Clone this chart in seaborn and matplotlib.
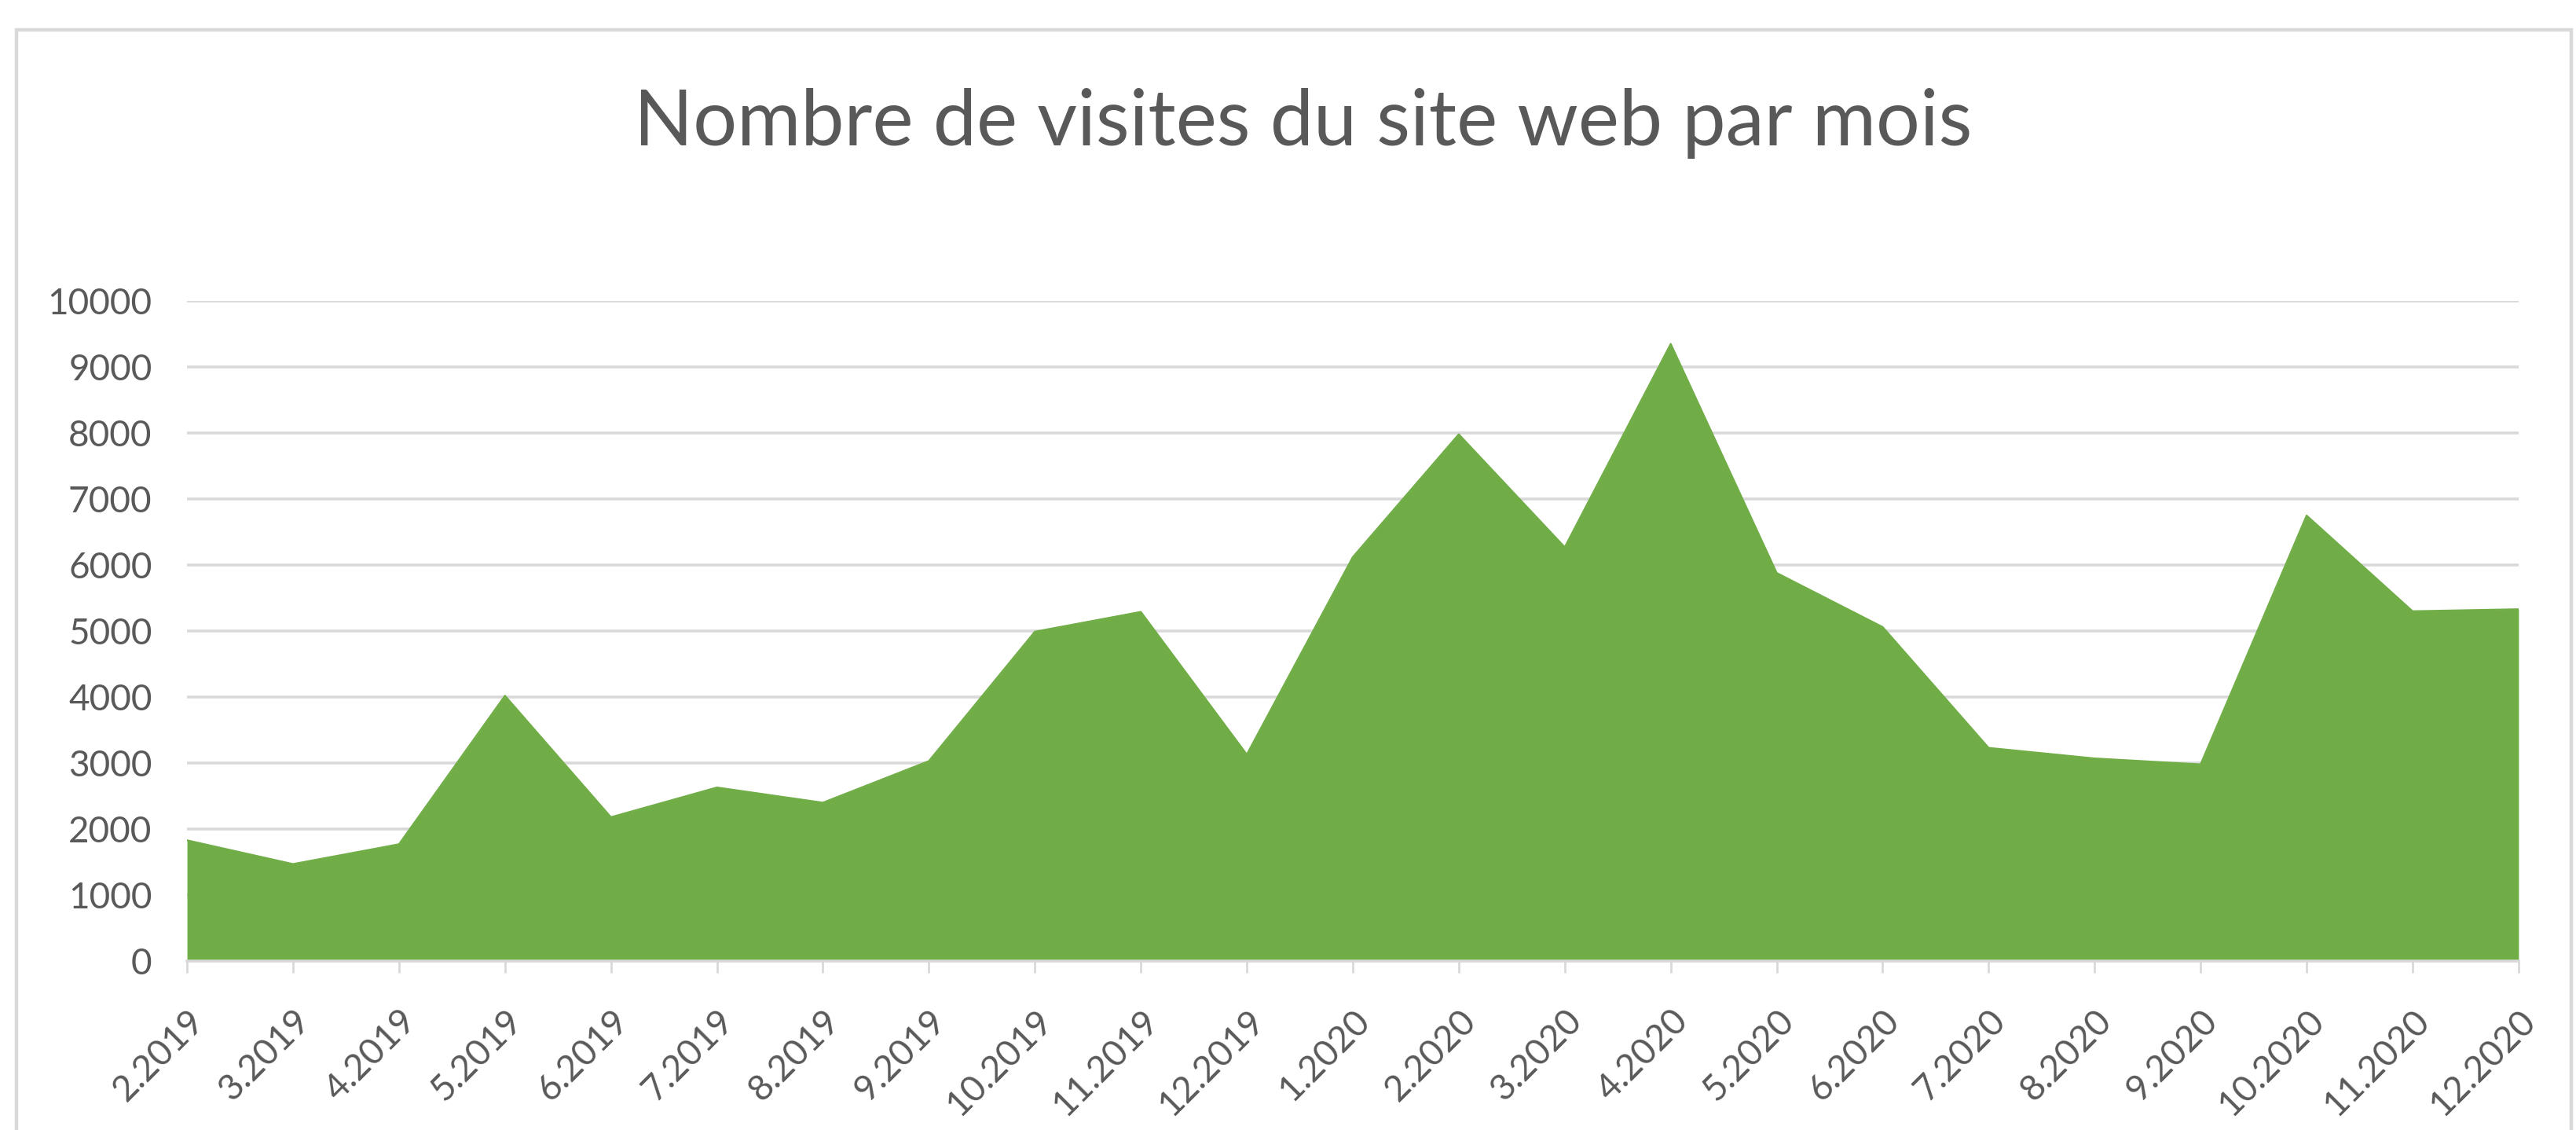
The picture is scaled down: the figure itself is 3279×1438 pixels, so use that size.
import numpy as np
import pandas as pd
import seaborn as sns
import matplotlib.pyplot as plt
from matplotlib.patches import Rectangle

# Monthly values
months = ['2.2019', '3.2019', '4.2019', '5.2019', '6.2019', '7.2019', '8.2019',
          '9.2019', '10.2019', '11.2019', '12.2019', '1.2020', '2.2020', '3.2020',
          '4.2020', '5.2020', '6.2020', '7.2020', '8.2020', '9.2020', '10.2020',
          '11.2020', '12.2020']
visits = [1830, 1470, 1770, 4020, 2180, 2630, 2400, 3030, 4990, 5290, 3130, 6120,
          7980, 6270, 9350, 5880, 5060, 3230, 3070, 2980, 6750, 5300, 5330]
y_ticks = [0, 1000, 2000, 3000, 4000, 5000, 6000, 7000, 8000, 9000, 10000]

df = pd.DataFrame({'pos': np.arange(len(months)), 'mois': months, 'visites': visits})

green = '#70AD47'
grid_grey = '#D9D9D9'
text_grey = '#595959'

sns.set_theme(style='white')
plt.rcParams['font.family'] = ['Lato', 'DejaVu Sans']

fig = plt.figure(figsize=(16.395, 7.19), dpi=200)
ax = fig.add_axes([0.0726, 0.1495, 0.9051, 0.5842])

# Area chart: seaborn line for the edge, filled down to zero
sns.lineplot(data=df, x='pos', y='visites', ax=ax, color=green, linewidth=0.8)
ax.fill_between(df['pos'], df['visites'], 0, color=green, linewidth=0, zorder=2)

ax.set_xlim(0, len(months) - 1)
ax.set_ylim(0, 10000)
ax.set_yticks(y_ticks)
ax.set_yticklabels([str(v) for v in y_ticks])
ax.set_xticks(df['pos'])
ax.set_xticklabels(months, rotation=45, ha='right', rotation_mode='anchor')
ax.set_xlabel('')
ax.set_ylabel('')

# Horizontal gridlines like Excel
ax.yaxis.grid(True, color=grid_grey, linewidth=1.3, zorder=0)
ax.set_axisbelow(True)
for side in ['top', 'right', 'left']:
    ax.spines[side].set_visible(False)
ax.spines['bottom'].set_color(grid_grey)
ax.spines['bottom'].set_linewidth(1.3)
ax.spines['bottom'].set_zorder(3)

ax.tick_params(axis='y', length=0, pad=16, labelsize=16.5, labelcolor=text_grey)
ax.tick_params(axis='x', length=5.5, width=1.0, color=grid_grey, pad=14,
               labelsize=16.5, labelcolor=text_grey, bottom=True)

fig.text(0.5057, 0.891, 'Nombre de visites du site web par mois', ha='center',
         va='center', fontsize=35.5, color=text_grey)

# Light grey chart border
fig.patches.append(Rectangle((0.0064, -0.05), 0.9918, 1.0236, transform=fig.transFigure,
                             fill=False, edgecolor=grid_grey, linewidth=1.6))

fig.savefig('out.png', dpi=200, facecolor='white')
